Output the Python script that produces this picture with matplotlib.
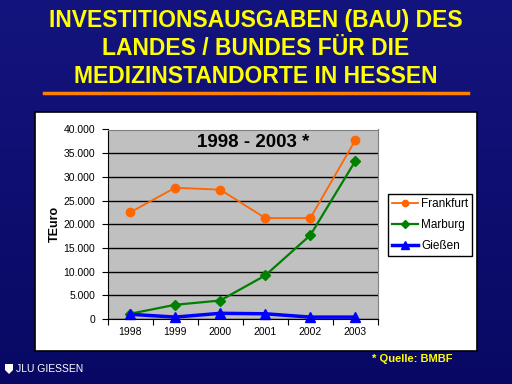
import matplotlib
matplotlib.use("Agg")
from matplotlib import pyplot as plt
from matplotlib.patches import Rectangle, Polygon
import matplotlib.ticker as mticker
import numpy as np

plt.rcParams['font.family'] = ['Liberation Sans', 'DejaVu Sans']

years = ["1998", "1999", "2000", "2001", "2002", "2003"]
frankfurt = [22500, 27700, 27300, 21300, 21300, 37800]
marburg = [1100, 3000, 3900, 9200, 17700, 33400]
giessen = [1000, 400, 1200, 1100, 400, 400]

title_lines = ["INVESTITIONSAUSGABEN (BAU) DES",
               "LANDES / BUNDES FÜR DIE",
               "MEDIZINSTANDORTE IN HESSEN"]

W, H = 512, 384
fig = plt.figure(figsize=(W / 100, H / 100), dpi=100)

def fx(px):
    return px / W

def fy(py):
    return 1 - py / H

# background gradient
bg = fig.add_axes([0, 0, 1, 1], zorder=-10)
grad = np.linspace(0, 1, 256).reshape(-1, 1)
top = np.array([0x14, 0x14, 0x7e]) / 255
bot = np.array([0x08, 0x08, 0x64]) / 255
img = top[None, None, :] * (1 - grad[:, :, None]) + bot[None, None, :] * grad[:, :, None]
bg.imshow(img, aspect="auto", extent=[0, 1, 0, 1])
bg.set_axis_off()

# title
for i, line in enumerate(title_lines):
    fig.text(0.5, fy(21 + i * 27.7), line, color="#FFFF00", fontsize=16.5,
             fontweight="bold", ha="center", va="center")
fig.add_artist(plt.Line2D([fx(44), fx(468)], [fy(93), fy(93)], color="#FF8000", lw=2.5))

# white chart box
fig.add_artist(Rectangle((fx(35), fy(351)), fx(442), 239 / H, transform=fig.transFigure,
                         facecolor="white", edgecolor="black", lw=1.2, zorder=0))

ax = fig.add_axes([fx(107.5), fy(319), fx(270.5), 189.5 / H])
ax.set_facecolor("#C0C0C0")
x = np.arange(len(years))
ax.plot(x, frankfurt, color="#FF6600", lw=1.3, marker="o", ms=6, label="Frankfurt", clip_on=False)
ax.plot(x, marburg, color="#008000", lw=1.6, marker="D", ms=5, label="Marburg", clip_on=False)
ax.plot(x, giessen, color="#0000FF", lw=2.5, marker="^", ms=7, label="Gießen", clip_on=False)

ax.set_xlim(-0.5, 5.5)
ax.set_ylim(0, 40000)
ax.yaxis.set_major_locator(mticker.MultipleLocator(5000))
ax.yaxis.set_major_formatter(mticker.FuncFormatter(lambda v, p: "{:,.0f}".format(v).replace(",", ".")))
ax.grid(axis="y", color="black", lw=1)
ax.set_axisbelow(True)
ax.set_xticks(np.arange(-0.5, 6, 1))
ax.set_xticklabels([])
ax.set_xticks(x, minor=True)
ax.set_xticklabels(years, minor=True)
ax.tick_params(axis="x", which="major", length=4, color="black")
ax.tick_params(axis="x", which="minor", length=0, pad=6, labelsize=7.5)
ax.tick_params(axis="y", length=4, labelsize=7.5, pad=5)
for s in ["top", "right"]:
    ax.spines[s].set_color("#808080")
ax.spines["left"].set_color("black")
ax.spines["bottom"].set_color("black")

ax.set_ylabel("TEuro", fontsize=9, fontweight="bold", labelpad=2)
ax.text(0.54, 0.93, "1998 - 2003 *", transform=ax.transAxes, fontsize=13.5,
        fontweight="bold", ha="center", va="center")

leg = fig.legend(loc="upper left", bbox_to_anchor=(fx(388), fy(194)), fontsize=8.5,
                 frameon=True, fancybox=False, edgecolor="black", framealpha=1,
                 handlelength=2.2, borderpad=0.35, labelspacing=0.75, handletextpad=0.25,
                 borderaxespad=0, markerscale=0.75)
leg.get_frame().set_linewidth(1)

fig.text(fx(372), fy(359), "* Quelle: BMBF", color="#FFFF00", fontsize=8,
         fontweight="bold", ha="left", va="center")
fig.text(fx(16), fy(369), "JLU GIESSEN", color="white", fontsize=7.5,
         ha="left", va="center")
shield = Polygon([(fx(5), fy(364)), (fx(13), fy(364)), (fx(13), fy(370)),
                  (fx(9), fy(374)), (fx(5), fy(370))], closed=True,
                 transform=fig.transFigure, facecolor="white", edgecolor="none")
fig.add_artist(shield)

fig.savefig("out.png", dpi=100)
